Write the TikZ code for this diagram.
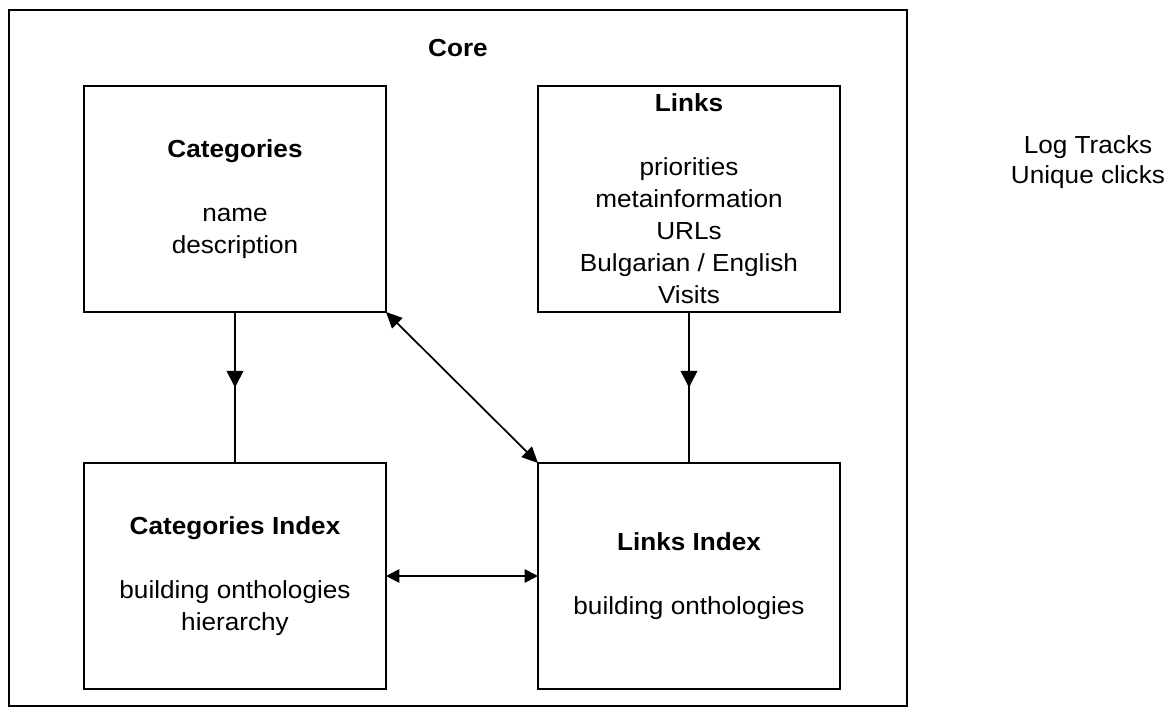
\documentclass[tikz,border=0pt]{standalone}
\usepackage{fontspec}
\setmainfont{Liberation Sans}[FakeStretch=1.06]
\usetikzlibrary{arrows.meta,decorations.markings}
\tikzset{
  box/.style={draw=black, line width=1.1pt, minimum width=226.5pt, minimum height=169.5pt,
    inner sep=0pt, outer sep=0pt, align=center, font=\fontsize{18.5}{24}\selectfont},
  frame/.style={draw=black, line width=1.1pt, minimum width=673.5pt, minimum height=522pt,
    inner sep=0pt, outer sep=0pt},
  conn/.style={line width=1.3pt, black},
  dbl/.style={conn, {Triangle[length=12pt,width=11pt]}-{Triangle[length=12pt,width=11pt]}},
  hdbl/.style={conn, {Triangle[length=10pt,width=10pt]}-{Triangle[length=10pt,width=10pt]}},
  midarrow/.style={conn, postaction={decorate, decoration={markings,
    mark=at position 0.5 with {\arrow{Triangle[length=12.5pt,width=12.5pt]}}}}},
  plain/.style={align=center, inner sep=0pt, font=\fontsize{18.5}{22}\selectfont}
}
\begin{document}
\begin{tikzpicture}[x=0.75pt,y=-0.75pt]
\useasboundingbox (0,0) rectangle (1172,724);
\node[frame] (core) at (458,358) {};
\node[plain, font=\fontsize{18.5}{22}\selectfont\bfseries] (corelabel) at (458,48) {Core};
\node[box] (cat) at (235,199) {\textbf{Categories}\\[24pt]name\\description};
\node[box] (links) at (689,199) {\textbf{Links}\\[24pt]priorities\\metainformation\\URLs\\Bulgarian / English\\Visits};
\node[box] (catidx) at (235,576) {\textbf{Categories Index}\\[24pt]building onthologies\\hierarchy};
\node[box] (linksidx) at (689,576) {\textbf{Links Index}\\[24pt]building onthologies};
\node[plain] (log) at (1088,162) {Log Tracks\\Unique clicks};
\draw[midarrow] (cat.south) -- (catidx.north);
\draw[midarrow] (links.south) -- (linksidx.north);
\draw[dbl] (cat.south east) -- (linksidx.north west);
\draw[hdbl] (catidx.east) -- (linksidx.west);
\end{tikzpicture}
\end{document}
